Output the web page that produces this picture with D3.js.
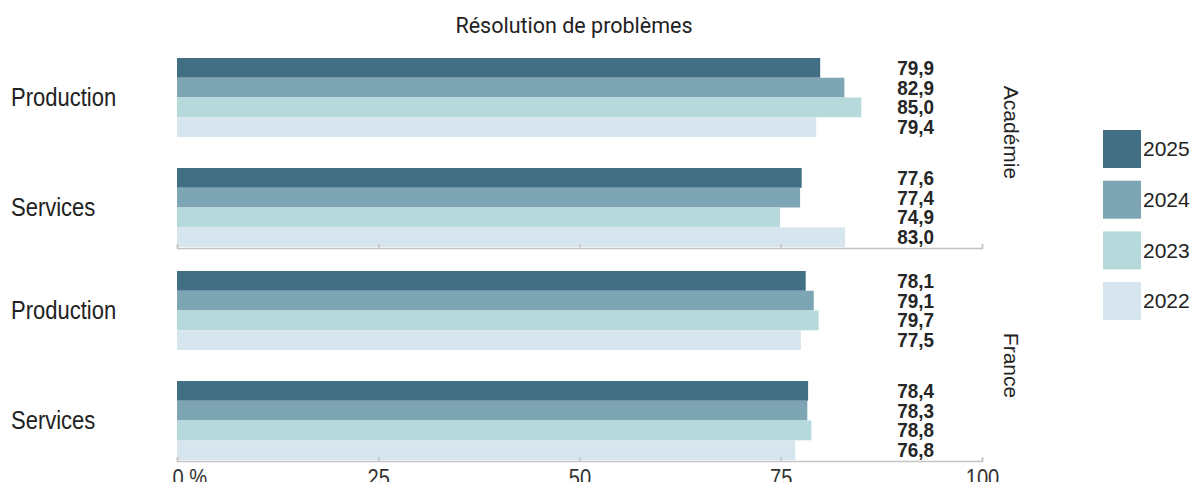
<!DOCTYPE html>
<html>
<head>
<meta charset="utf-8">
<script src="https://cdn.jsdelivr.net/npm/d3@7"></script>
<style>
  body { margin: 0; background: #fff; }
  svg { display: block; }
  text { font-family: "Liberation Sans", Arial, sans-serif; }
</style>
</head>
<body>
<svg id="chart" width="1195" height="482"></svg>
<script>
// data
var years = ["2025", "2024", "2023", "2022"];
var categories = ["Production", "Services"];
var panels = ["Académie", "France"];
var academieProduction = [79.9, 82.9, 85.0, 79.4];
var academieServices = [77.6, 77.4, 74.9, 83.0];
var franceProduction = [78.1, 79.1, 79.7, 77.5];
var franceServices = [78.4, 78.3, 78.8, 76.8];
var tickValues = [0, 25, 50, 75, 100];
var colors = ["#436f84", "#7ea5b3", "#b6d9db", "#d7e5ee"];

var values = {
	"Académie": { "Production": academieProduction, "Services": academieServices },
	"France": { "Production": franceProduction, "Services": franceServices }
};

var svg = d3.select("#chart");
var fmt = function(v) { return d3.format(".1f")(v).replace(".", ","); };

// no narrow font installed, so squeeze the regular one
var narrowLabel = 0.88, narrowValue = 0.9, narrowTick = 0.84;
// the top facet label sits a little above its panel centre
var facetShift = [-20, 0];

// scales
var x = d3.scaleLinear().domain([0, 100]).range([177, 982]);
var yPanel = d3.scaleBand().domain(panels).range([58, 460]).paddingInner(0.1127);
var yCat = d3.scaleBand().domain(categories).range([0, yPanel.bandwidth()]).paddingInner(0.282);
var yYear = d3.scaleBand().domain(years).range([0, yCat.bandwidth()]);
var color = d3.scaleOrdinal().domain(years).range(colors);

// title
svg.append("text")
	.attr("x", 574)
	.attr("y", 33)
	.attr("text-anchor", "middle")
	.style("font-family", "Roboto, sans-serif")
	.style("font-size", "21.5px")
	.style("fill", "#222")
	.text("Résolution de problèmes");

panels.forEach(function(p, pi) {
	var g = svg.append("g").attr("transform", "translate(0," + yPanel(p) + ")");

	categories.forEach(function(c) {
		var cg = g.append("g").attr("transform", "translate(0," + yCat(c) + ")");
		var vals = values[p][c];

		cg.selectAll("rect")
			.data(vals)
			.enter().append("rect")
			.attr("x", x(0))
			.attr("y", function(d, i) { return yYear(years[i]); })
			.attr("width", function(d) { return x(d) - x(0); })
			.attr("height", yYear.bandwidth())
			.style("fill", function(d, i) { return color(years[i]); });

		cg.selectAll("text.val")
			.data(vals)
			.enter().append("text")
			.attr("class", "val")
			.attr("transform", function(d, i) {
				return "translate(934," + (yYear(years[i]) + yYear.bandwidth() / 2) + ") scale(" + narrowValue + ",1)";
			})
			.attr("dy", "0.33em")
			.attr("text-anchor", "end")
			.style("font-size", "21px")
			.style("font-weight", "bold")
			.style("fill", "#262626")
			.text(fmt);

		// category label
		cg.append("text")
			.attr("transform", "translate(11," + (yCat.bandwidth() / 2) + ") scale(" + narrowLabel + ",1)")
			.attr("dy", "0.35em")
			.style("font-size", "25px")
			.style("fill", "#222")
			.text(c);
	});

	// axis
	var axis = d3.axisBottom(x).tickValues(tickValues).tickSize(-4).tickSizeOuter(-4).tickFormat("");
	var ag = g.append("g")
		.attr("transform", "translate(0," + (yPanel.bandwidth() + 1) + ")")
		.call(axis);
	ag.select(".domain").style("stroke", "#c4c4c4").style("stroke-width", 1.5);
	ag.selectAll(".tick line").style("stroke", "#c4c4c4").style("stroke-width", 1.5);

	if (pi === panels.length - 1) {
		ag.selectAll(".tick text")
			.attr("y", null)
			.attr("dy", null)
			.attr("transform", function(d) { return "translate(" + (d === 0 ? -5 : 0) + ",25) scale(" + narrowTick + ",1)"; })
			.attr("text-anchor", function(d) { return d === 0 ? "start" : "middle"; })
			.style("font-family", "'Liberation Sans', Arial, sans-serif")
			.style("font-size", "24px")
			.style("fill", "#333")
			.text(function(d) { return d === 0 ? "0 %" : d; });
	}

	// facet label
	var cy = yPanel(p) + yPanel.bandwidth() / 2 + facetShift[pi];
	svg.append("text")
		.attr("transform", "translate(1004," + cy + ") rotate(90)")
		.attr("text-anchor", "middle")
		.style("font-size", "21px")
		.style("fill", "#222")
		.text(p);
});

// legend
var legend = svg.append("g").attr("transform", "translate(1103,130)");
var item = legend.selectAll("g")
	.data(years)
	.enter().append("g")
	.attr("transform", function(d, i) { return "translate(0," + (i * 50.7) + ")"; });
item.append("rect")
	.attr("width", 38)
	.attr("height", 38)
	.style("fill", function(d) { return color(d); });
item.append("text")
	.attr("x", 40)
	.attr("y", 19)
	.attr("dy", "0.35em")
	.style("font-size", "21px")
	.style("fill", "#222")
	.text(function(d) { return d; });
</script>
</body>
</html>
